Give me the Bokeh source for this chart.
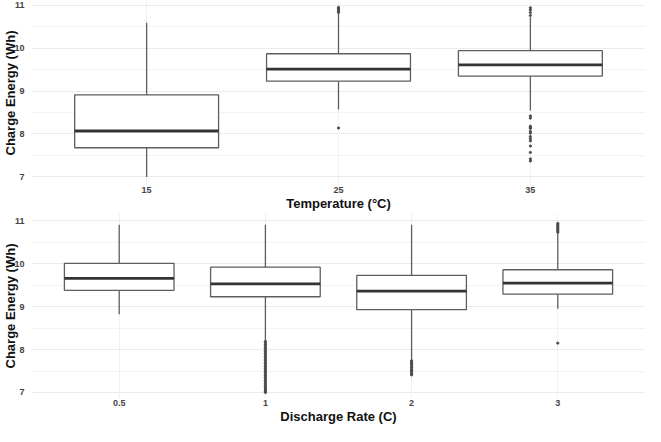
from bokeh.plotting import figure
from bokeh.layouts import column
from bokeh.models import FixedTicker, ColumnDataSource
from bokeh.transform import dodge
from bokeh.embed import file_html
from bokeh.resources import INLINE

# ---- Data: Temperature panel ----
temp_cats = ["15", "25", "35"]
temp_low = [7.00, 8.57, 8.55]
temp_q1 = [7.68, 9.23, 9.35]
temp_med = [8.07, 9.51, 9.61]
temp_q3 = [8.91, 9.87, 9.94]
temp_high = [10.59, 10.80, 10.72]
temp_out_x = ["25", "25", "25", "25", "25", "25",
              "35", "35", "35", "35", "35", "35", "35", "35", "35", "35",
              "35", "35", "35", "35", "35", "35", "35", "35"]
temp_out_y = [8.14, 10.83, 10.86, 10.89, 10.92, 10.95,
              8.42, 8.37, 8.18, 8.15, 8.13, 8.06, 8.02, 7.94, 7.89, 7.84,
              7.72, 7.57, 7.42, 7.37, 10.76, 10.83, 10.89, 10.94]

# ---- Data: Discharge-rate panel ----
rate_cats = ["0.5", "1", "2", "3"]
rate_low = [8.82, 8.22, 7.76, 8.95]
rate_q1 = [9.38, 9.23, 8.93, 9.29]
rate_med = [9.66, 9.53, 9.36, 9.55]
rate_q3 = [10.01, 9.92, 9.73, 9.86]
rate_high = [10.91, 10.91, 10.91, 10.70]
rate_out_x = (["1"] * 36) + (["2"] * 11) + (["3"] * 9)
rate_out_y = [8.19, 8.16, 8.12, 8.09, 8.05, 8.02, 7.98, 7.95, 7.91, 7.88,
              7.84, 7.81, 7.77, 7.74, 7.70, 7.67, 7.63, 7.60, 7.56, 7.53,
              7.49, 7.46, 7.42, 7.39, 7.35, 7.32, 7.28, 7.25, 7.21, 7.18,
              7.14, 7.11, 7.08, 7.05, 7.02, 7.00,
              7.74, 7.71, 7.68, 7.65, 7.61, 7.58, 7.54, 7.51, 7.48, 7.44, 7.41,
              10.73, 10.76, 10.79, 10.82, 10.85, 10.88, 10.91, 10.94,
              8.15]

y_ticks = [7, 8, 9, 10, 11]
y_minor = [6.5, 7.5, 8.5, 9.5, 10.5]

FONT = "Liberation Sans"


def make_panel(cats, low, q1, med, q3, high, ox, oy, xlabel, height, ybot, ytop):
    p = figure(x_range=cats, y_range=(ybot, ytop), width=645, height=height,
               output_backend="svg", toolbar_location=None,
               min_border=0, min_border_left=0, min_border_right=0,
               min_border_top=0, min_border_bottom=0)
    p.x_range.range_padding = 0.1
    p.x_range.range_padding_units = "absolute"
    p.outline_line_color = None
    p.background_fill_color = "white"
    p.border_fill_color = "white"

    src = ColumnDataSource(dict(cat=cats, low=low, q1=q1, med=med, q3=q3, high=high))
    # whiskers
    p.segment(x0="cat", y0="q3", x1="cat", y1="high", source=src,
              line_color="#5e5e5e", line_width=1.3)
    p.segment(x0="cat", y0="low", x1="cat", y1="q1", source=src,
              line_color="#5e5e5e", line_width=1.3)
    # boxes
    p.vbar(x="cat", top="q3", bottom="q1", width=0.75, source=src,
           fill_color="white", line_color="#5e5e5e", line_width=1.3)
    # median
    p.segment(x0=dodge("cat", -0.375, range=p.x_range), y0="med",
              x1=dodge("cat", 0.375, range=p.x_range), y1="med", source=src,
              line_color="#333333", line_width=2.8)
    # outliers
    p.scatter(x=ox, y=oy, size=2.2, marker="circle", color="#4a4a4a")

    p.yaxis.ticker = FixedTicker(ticks=y_ticks, minor_ticks=y_minor)
    p.ygrid.grid_line_color = "#ebebeb"
    p.ygrid.grid_line_width = 1
    p.ygrid.minor_grid_line_color = "#f3f3f3"
    p.ygrid.minor_grid_line_width = 1
    p.xgrid.grid_line_color = "#f0f0f0"
    p.xgrid.grid_line_width = 1

    for ax in (p.xaxis, p.yaxis):
        ax.axis_line_color = None
        ax.major_tick_line_color = None
        ax.minor_tick_line_color = None
        ax.major_tick_out = 0
        ax.major_tick_in = 0
        ax.major_label_text_font = FONT
        ax.major_label_text_font_style = "bold"
        ax.major_label_text_font_size = "9px"
        ax.major_label_text_color = "#444444"
        ax.axis_label_text_font = FONT
        ax.axis_label_text_font_style = "bold"
        ax.axis_label_text_font_size = "13px"
        ax.axis_label_text_color = "#111111"
    p.xaxis.axis_label = xlabel
    p.yaxis.axis_label = "Charge Energy (Wh)"
    p.xaxis.major_label_standoff = 1
    p.xaxis.axis_label_standoff = 0
    p.yaxis.major_label_standoff = 3
    p.yaxis.axis_label_standoff = -7
    return p


p1 = make_panel(temp_cats, temp_low, temp_q1, temp_med, temp_q3, temp_high,
                temp_out_x, temp_out_y, "Temperature (°C)", 213, 6.80, 11.11)
p2 = make_panel(rate_cats, rate_low, rate_q1, rate_med, rate_q3, rate_high,
                rate_out_x, rate_out_y, "Discharge Rate (C)", 213, 6.86, 11.17)

layout = column(p1, p2, spacing=0)
open("out.html", "w").write(file_html(layout, INLINE))
